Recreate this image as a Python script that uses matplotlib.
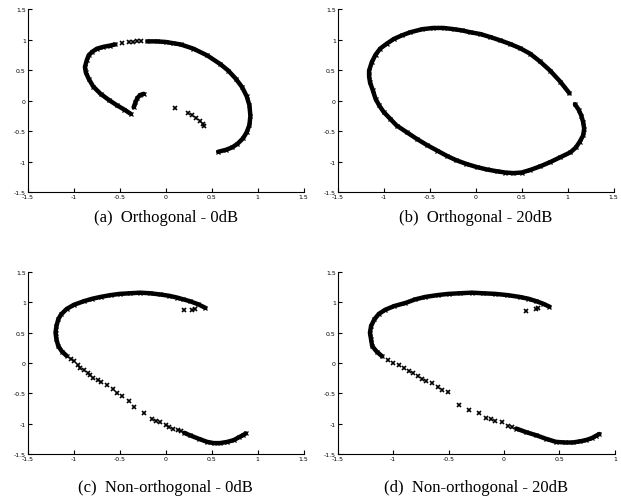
import matplotlib
matplotlib.use("Agg")
import matplotlib.pyplot as plt

plt.rcParams['axes.unicode_minus'] = False

# (a) Orthogonal - 0dB : dense arc pieces and sparse marks
a_arc1_x = [-0.38, -0.45, -0.53, -0.62, -0.71, -0.79, -0.84, -0.87, -0.88, -0.86, -0.84, -0.80, -0.75, -0.68, -0.61, -0.55]
a_arc1_y = [-0.22, -0.15, -0.08, 0.01, 0.11, 0.23, 0.36, 0.46, 0.55, 0.66, 0.74, 0.80, 0.85, 0.88, 0.90, 0.92]
a_arc2_x = [-0.20, -0.10, 0.00, 0.08, 0.16, 0.30, 0.45, 0.59, 0.68, 0.76, 0.83, 0.88, 0.91, 0.92, 0.91, 0.88, 0.84, 0.78, 0.72, 0.65, 0.57]
a_arc2_y = [0.97, 0.97, 0.96, 0.94, 0.92, 0.85, 0.74, 0.60, 0.49, 0.36, 0.22, 0.07, -0.08, -0.25, -0.40, -0.52, -0.62, -0.71, -0.77, -0.81, -0.84]
a_hook_x = [-0.35, -0.33, -0.31, -0.28, -0.24]
a_hook_y = [-0.11, -0.03, 0.04, 0.09, 0.11]
a_dots_x = [-0.48, -0.40, -0.36, -0.31, -0.27, 0.10, 0.24, 0.28, 0.33, 0.37, 0.40, 0.42]
a_dots_y = [0.95, 0.96, 0.96, 0.97, 0.97, -0.13, -0.21, -0.24, -0.29, -0.33, -0.38, -0.42]

# (b) Orthogonal - 20dB : near-complete ellipse
b_arc1_x = [1.02, 0.92, 0.81, 0.70, 0.59, 0.48, 0.37, 0.26, 0.16, 0.05, -0.06, -0.15, -0.24, -0.35, -0.46, -0.58, -0.71, -0.80, -0.89, -0.97, -1.04, -1.09, -1.13, -1.16, -1.16, -1.15, -1.12, -1.09, -1.05, -1.00, -0.93, -0.86, -0.75, -0.64, -0.53, -0.42, -0.31, -0.21, -0.10, 0.01, 0.12, 0.23, 0.32, 0.41, 0.50, 0.59, 0.70, 0.81, 0.92, 1.03, 1.09, 1.13, 1.17, 1.18, 1.17, 1.15, 1.12, 1.08]
b_arc1_y = [0.12, 0.31, 0.49, 0.64, 0.77, 0.86, 0.93, 0.99, 1.04, 1.09, 1.12, 1.15, 1.17, 1.19, 1.19, 1.17, 1.12, 1.07, 1.01, 0.93, 0.85, 0.75, 0.63, 0.49, 0.40, 0.30, 0.17, 0.03, -0.08, -0.19, -0.30, -0.41, -0.52, -0.63, -0.73, -0.82, -0.91, -0.98, -1.04, -1.09, -1.13, -1.16, -1.18, -1.19, -1.18, -1.14, -1.08, -1.01, -0.93, -0.85, -0.77, -0.68, -0.57, -0.46, -0.36, -0.25, -0.15, -0.06]

# (c) Non-orthogonal - 0dB
c_arc1_x = [0.43, 0.35, 0.26, 0.19, 0.12, 0.03, -0.06, -0.17, -0.28, -0.39, -0.50, -0.60, -0.71, -0.80, -0.89, -1.00, -1.08, -1.14, -1.17, -1.19, -1.20, -1.19, -1.17, -1.13, -1.08]
c_arc1_y = [0.91, 0.97, 1.02, 1.05, 1.08, 1.11, 1.13, 1.15, 1.16, 1.15, 1.14, 1.12, 1.09, 1.06, 1.02, 0.96, 0.89, 0.80, 0.72, 0.61, 0.50, 0.39, 0.28, 0.19, 0.12]
c_arc2_x = [0.20, 0.26, 0.36, 0.45, 0.52, 0.59, 0.67, 0.74, 0.80, 0.84, 0.87]
c_arc2_y = [-1.15, -1.19, -1.25, -1.30, -1.32, -1.32, -1.30, -1.27, -1.22, -1.19, -1.16]
c_dots_x = [-1.03, -1.00, -0.96, -0.93, -0.89, -0.85, -0.82, -0.79, -0.74, -0.70, -0.64, -0.58, -0.53, -0.48, -0.40, -0.35, -0.24, -0.15, -0.11, -0.06, 0.00, 0.04, 0.08, 0.13, 0.17, 0.20, 0.32, 0.29]
c_dots_y = [0.07, 0.03, -0.03, -0.08, -0.12, -0.16, -0.20, -0.24, -0.28, -0.31, -0.37, -0.43, -0.50, -0.54, -0.63, -0.72, -0.82, -0.92, -0.95, -0.97, -1.02, -1.05, -1.08, -1.10, -1.12, 0.87, 0.89, 0.88]

# (d) Non-orthogonal - 20dB
d_arc1_x = [0.41, 0.35, 0.29, 0.22, 0.14, 0.03, -0.08, -0.19, -0.29, -0.40, -0.50, -0.60, -0.71, -0.80, -0.89, -0.99, -1.07, -1.13, -1.17, -1.20, -1.21, -1.20, -1.19, -1.15, -1.10]
d_arc1_y = [0.93, 0.98, 1.02, 1.06, 1.09, 1.12, 1.14, 1.15, 1.16, 1.15, 1.14, 1.12, 1.09, 1.05, 0.99, 0.94, 0.88, 0.81, 0.72, 0.61, 0.50, 0.39, 0.28, 0.19, 0.11]
d_arc2_x = [0.11, 0.20, 0.29, 0.38, 0.47, 0.55, 0.62, 0.69, 0.74, 0.79, 0.83, 0.86]
d_arc2_y = [-1.08, -1.14, -1.19, -1.25, -1.30, -1.31, -1.31, -1.29, -1.27, -1.24, -1.20, -1.17]
d_dots_x = [-1.05, -1.00, -0.95, -0.90, -0.86, -0.82, -0.78, -0.74, -0.70, -0.65, -0.60, -0.56, -0.51, -0.41, -0.32, -0.23, -0.16, -0.12, -0.08, -0.02, 0.04, 0.07, 0.20, 0.29, 0.31]
d_dots_y = [0.05, 0.00, -0.04, -0.08, -0.13, -0.17, -0.21, -0.26, -0.30, -0.33, -0.40, -0.45, -0.47, -0.69, -0.77, -0.83, -0.91, -0.93, -0.95, -0.98, -1.03, -1.05, 0.86, 0.89, 0.90]

ticks_15 = [-1.5, -1, -0.5, 0, 0.5, 1, 1.5]
tick_text_15 = ['-1.5', '-1', '-0.5', '0', '0.5', '1', '1.5']
ticks_10 = [-1.5, -1, -0.5, 0, 0.5, 1]
tick_text_10 = ['-1.5', '-1', '-0.5', '0', '0.5', '1']

captions = ['(a)  Orthogonal - 0dB', '(b)  Orthogonal - 20dB',
            '(c)  Non-orthogonal - 0dB', '(d)  Non-orthogonal - 20dB']

fig = plt.figure(figsize=(6.21, 5.02), dpi=100)
boxes = [[0.045, 0.6155, 0.444, 0.3645],
         [0.544, 0.6155, 0.444, 0.3645],
         [0.045, 0.0936, 0.444, 0.3625],
         [0.544, 0.0936, 0.446, 0.3625]]
axs = [fig.add_axes(b) for b in boxes]

arcs = [[(a_arc1_x, a_arc1_y), (a_arc2_x, a_arc2_y), (a_hook_x, a_hook_y)],
        [(b_arc1_x, b_arc1_y)],
        [(c_arc1_x, c_arc1_y), (c_arc2_x, c_arc2_y)],
        [(d_arc1_x, d_arc1_y), (d_arc2_x, d_arc2_y)]]
dots = [(a_dots_x, a_dots_y), ([], []), (c_dots_x, c_dots_y), (d_dots_x, d_dots_y)]

for i, ax in enumerate(axs):
    for xs, ys in arcs[i]:
        ax.plot(xs, ys, '-', color='black', lw=3.2, solid_capstyle='round')
        ax.plot(xs, ys, 'x', color='black', ms=3, mew=0.9)
    ax.plot(dots[i][0], dots[i][1], 'x', color='black', ms=3, mew=1.2)
    if i == 3:
        ax.set_xlim(-1.5, 1)
        ax.set_xticks(ticks_10)
        ax.set_xticklabels(tick_text_10)
    else:
        ax.set_xlim(-1.5, 1.5)
        ax.set_xticks(ticks_15)
        ax.set_xticklabels(tick_text_15)
    ax.set_ylim(-1.5, 1.5)
    ax.set_yticks(ticks_15)
    ax.set_yticklabels(tick_text_15)
    ax.spines['top'].set_visible(False)
    ax.spines['right'].set_visible(False)
    ax.spines['left'].set_linewidth(0.8)
    ax.spines['bottom'].set_linewidth(0.8)
    ax.tick_params(direction='in', length=3, width=0.8, labelsize=4.5, pad=1.5)
    pos = ax.get_position()
    cy = 0.566 if i < 2 else 0.028
    fig.text(pos.x0 + pos.width / 2, cy, captions[i], ha='center', va='center',
             fontsize=12, family='Liberation Serif')

fig.savefig('out.png', dpi=100)
